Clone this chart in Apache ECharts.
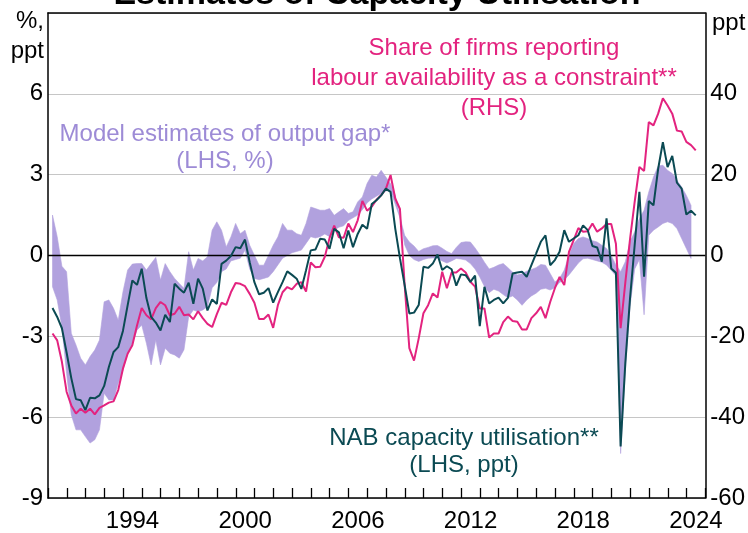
<!DOCTYPE html>
<html>
<head>
<meta charset="utf-8">
<script src="https://cdn.jsdelivr.net/npm/echarts@6/dist/echarts.min.js"></script>
<style>
  html, body { margin: 0; padding: 0; background: #fff; }
  #main { width: 748px; height: 533px; }
</style>
</head>
<body>
<div id="main"></div>
<script>
// quarterly data, 1990 Q1 onwards
var firstYear = 1990;
var yearLabels = [];
for (var yr = 1990; yr <= 2024; yr++) yearLabels.push(String(yr));

// NAB capacity utilisation, deviation from average (LHS, ppt)
var nab = [-1.95,-2.28,-2.7,-3.6,-4.55,-5.33,-5.37,-5.74,-5.28,-5.3,
  -5.19,-4.84,-4.14,-3.58,-3.4,-2.8,-1.85,-0.93,-1.09,-0.49,
  -1.58,-2.28,-2.49,-2.78,-2.2,-2.47,-1.05,-1.23,-1.38,-1.01,
  -1.79,-0.86,-1.23,-2.04,-1.63,-1.8,-0.31,-0.19,-0.02,0.31,
  0.27,0.59,-0.25,-0.99,-1.44,-1.38,-1.21,-1.75,-1.36,-0.99,
  -0.59,-0.72,-0.86,-1.24,-0.55,0.19,0.22,0.62,0.59,0.25,
  0.99,0.86,0.27,0.93,0.31,0.8,1.14,0.99,1.91,2.05,
  2.23,2.48,2.36,1.0,-0.1,-1.1,-2.15,-2.12,-1.84,-0.42,
  -0.46,-0.3,0.04,-0.54,-0.4,-0.51,-1.12,-0.7,-0.73,-0.98,
  -0.75,-2.62,-1.16,-1.78,-1.65,-1.56,-1.78,-1.57,-0.67,-0.63,
  -0.6,-0.79,-0.36,0.07,0.51,0.75,-0.36,-0.17,0.14,0.94,
  0.51,0.63,0.75,1.12,0.94,0.35,0.3,-0.23,1.38,-0.48,
  -0.64,-7.09,-4.0,-1.6,0.4,2.36,-0.79,2.02,1.86,3.22,
  4.21,3.28,3.7,2.7,2.48,1.52,1.66,1.49];

// share of firms reporting labour availability as a constraint (RHS, ppt)
var labour = [-19.3,-21.0,-26.3,-33.7,-37.1,-39.1,-37.9,-38.9,-37.9,-39.3,
  -37.7,-37.1,-36.4,-36.1,-33.3,-28.0,-24.3,-22.2,-17.3,-13.0,
  -14.8,-15.8,-13.0,-11.5,-12.3,-14.8,-14.4,-12.7,-14.8,-14.6,
  -15.8,-13.8,-15.5,-16.9,-17.7,-14.5,-11.7,-12.2,-9.1,-6.8,
  -7.0,-7.6,-9.5,-11.7,-15.7,-15.7,-14.6,-17.9,-12.3,-9.1,
  -7.8,-8.4,-7.0,-6.6,-8.9,-1.7,-2.9,-2.8,-0.3,4.3,
  7.4,4.5,4.4,7.9,5.8,8.7,13.5,11.1,12.1,13.8,
  14.9,16.5,19.9,14.1,11.5,-7.3,-22.9,-26.0,-20.5,-14.3,
  -12.3,-9.4,-10.4,-4.0,-8.1,-4.2,-4.2,-3.2,-4.2,-6.5,
  -7.7,-13.1,-13.1,-20.3,-19.3,-19.3,-16.5,-15.1,-16.2,-16.4,
  -18.3,-18.3,-15.5,-14.3,-12.7,-15.5,-11.5,-8.1,-5.3,-7.3,
  0.9,3.8,6.8,5.9,6.0,7.9,5.9,6.7,7.8,7.8,
  2.9,-18.0,-6.7,4.0,13.3,21.9,20.9,33.0,32.2,35.1,
  38.9,37.1,35.1,30.9,30.7,28.1,27.3,26.0];

// range of model estimates of the output gap (LHS, %)
var gapHigh = [1.5,0.7,-0.4,-0.6,-2.89,-3.32,-3.81,-4.06,-3.75,-3.51,
  -3.14,-1.72,-1.65,-1.96,-2.4,-1.35,-0.54,-0.32,-0.3,-0.3,
  -0.54,-0.3,-0.07,-0.91,-0.3,-0.6,-0.85,-1.04,-1.22,0.14,
  -0.54,-0.11,-0.2,-0.05,0.94,1.25,0.94,0.32,0.69,1.19,
  0.81,0.94,0.38,0.01,-0.36,-0.36,0.01,0.38,0.69,1.19,
  0.94,0.94,0.81,0.75,1.19,1.8,1.74,1.68,1.68,1.74,
  1.49,1.62,1.74,1.56,1.62,1.99,2.17,2.67,2.98,2.91,
  3.16,2.91,2.67,2.23,1.43,0.75,0.5,0.35,0.15,0.25,
  0.3,0.36,0.37,0.27,0.15,0.07,0.3,0.48,0.51,0.5,
  0.28,0.03,-0.25,-0.5,-0.44,-0.35,-0.3,-0.45,-0.62,-0.72,
  -0.68,-0.58,-0.52,-0.45,-0.33,-0.36,-0.67,-0.98,-0.85,-0.54,
  0.01,0.44,0.63,0.69,0.63,0.55,0.5,0.38,0.26,0.0,
  -0.35,-0.6,-0.23,0.51,0.88,1.37,1.68,2.36,2.91,3.32,
  3.35,3.16,3.04,2.79,2.54,2.23,1.86];
var gapLow = [-1.16,-1.65,-2.64,-4.37,-5.91,-6.47,-6.47,-6.72,-6.96,-6.84,
  -6.47,-5.11,-5.36,-5.36,-4.74,-4.25,-3.63,-3.26,-2.77,-2.58,
  -3.26,-4.06,-3.14,-4.06,-3.44,-3.63,-3.69,-3.81,-3.5,-2.27,
  -2.02,-2.09,-2.02,-1.9,-1.2,-1.0,-0.6,-0.5,-0.2,-0.15,
  -0.1,0.2,-0.5,-0.85,-0.9,-0.85,-0.8,-0.6,-0.35,-0.1,
  0.0,0.1,0.15,0.2,0.45,0.7,0.65,0.7,0.8,0.7,
  0.95,1.05,1.1,1.3,1.4,1.5,1.7,1.95,2.1,2.2,
  2.3,2.4,2.4,1.9,1.4,0.4,0.0,-0.15,-0.22,-0.15,
  -0.1,-0.09,-0.1,-0.2,-0.28,-0.2,-0.11,-0.13,-0.17,-0.3,
  -0.5,-0.8,-1.15,-1.38,-1.25,-1.32,-1.45,-1.57,-1.5,-1.65,
  -1.85,-1.65,-1.5,-1.4,-1.25,-1.22,-1.28,-1.2,-1.0,-0.9,
  -0.72,-0.5,-0.28,-0.12,-0.1,-0.15,-0.2,-0.25,-0.35,-0.55,
  -0.75,-7.35,-4.3,-1.9,-0.5,-0.15,-2.2,0.75,0.94,1.06,
  1.19,1.25,1.19,1.0,0.63,0.26,-0.11];

var FONT = '"Liberation Sans", Arial, sans-serif';
var PINK = '#e3237f';
var TEAL = '#0b4a53';
var BAND = '#b1a1de';

function qx(i) { return firstYear + 0.24 + i * 0.25; }
function pts(arr) { return arr.map(function (v, i) { return [qx(i), v]; }); }

var bandData = gapHigh.map(function (v, i) { return [qx(i), gapLow[i], v]; });

// whole band drawn as one polygon through the axis scales
function renderBand(params, api) {
  if (params.dataIndex !== 0) return;
  var upper = [], lower = [];
  for (var i = 0; i < bandData.length; i++) {
    upper.push(api.coord([bandData[i][0], bandData[i][2]]));
    lower.push(api.coord([bandData[i][0], bandData[i][1]]));
  }
  return {
    type: 'polygon',
    shape: { points: upper.concat(lower.reverse()) },
    style: { fill: BAND, stroke: BAND, lineWidth: 0.6 },
    silent: true
  };
}

var myChart = echarts.init(document.getElementById('main'));
var option = {
  animation: false,
  grid: { left: 48, right: 41, top: 13, bottom: 33 },
  xAxis: [
    { type: 'value', min: 1990, max: 2025, show: false },
    {
      type: 'category', data: yearLabels, boundaryGap: true, position: 'bottom',
      axisLine: { show: true, onZero: false, lineStyle: { color: '#000', width: 1.5 } },
      axisTick: { show: true, inside: true, length: 10, interval: 0, alignWithLabel: false,
        lineStyle: { color: '#000', width: 1.3 } },
      axisLabel: {
        interval: function (idx, val) { return Number(val) % 6 === 2; },
        fontSize: 24, color: '#000', fontFamily: FONT, margin: 11
      },
      splitLine: { show: false }
    },
    {
      type: 'value', min: 0, max: 1, position: 'top',
      axisLine: { show: true, onZero: false, lineStyle: { color: '#000', width: 1.5 } },
      axisTick: { show: false }, axisLabel: { show: false }, splitLine: { show: false }
    }
  ],
  yAxis: [
    {
      type: 'value', min: -9, max: 9, interval: 3, position: 'left',
      axisLine: { show: true, onZero: false, lineStyle: { color: '#000', width: 1.5 } },
      axisTick: { show: false },
      axisLabel: {
        fontSize: 24, color: '#000', fontFamily: FONT, margin: 5,
        formatter: function (v) { return v === 9 ? '' : String(v); }
      },
      splitLine: { show: true, lineStyle: { color: '#c6c6c6', width: 1.2 } }
    },
    {
      type: 'value', min: -60, max: 60, interval: 20, position: 'right',
      axisLine: { show: true, onZero: false, lineStyle: { color: '#000', width: 1.5 } },
      axisTick: { show: false },
      axisLabel: {
        fontSize: 24, color: '#000', fontFamily: FONT, margin: 5,
        formatter: function (v) { return v === 60 ? '' : String(v); }
      },
      splitLine: { show: false }
    }
  ],
  series: [
    {
      name: 'gapRange', type: 'custom', xAxisIndex: 0, yAxisIndex: 0,
      data: bandData, encode: { x: 0, y: [1, 2] },
      renderItem: renderBand, silent: true, z: 2,
      markLine: {
        silent: true, symbol: 'none', z: 5,
        label: { show: false },
        lineStyle: { color: '#000', width: 1.3, type: 'solid' },
        data: [{ yAxis: 0 }]
      }
    },
    {
      name: 'labour', type: 'line', xAxisIndex: 0, yAxisIndex: 1,
      data: pts(labour), symbol: 'none', z: 7,
      lineStyle: { width: 2, color: PINK }
    },
    {
      name: 'nab', type: 'line', xAxisIndex: 0, yAxisIndex: 0,
      data: pts(nab), symbol: 'none', z: 8,
      lineStyle: { width: 2, color: TEAL }
    }
  ],
  graphic: [
    { type: 'text', x: 377, y: -5.5, silent: true,
      style: { text: 'Estimates of Capacity Utilisation', fill: '#000', font: 'bold 34px ' + FONT, align: 'center', verticalAlign: 'middle' } },
    { type: 'text', x: 44, y: 36, silent: true,
      style: { text: '%,\nppt', fill: '#000', font: '24px ' + FONT, align: 'right', verticalAlign: 'middle', lineHeight: 30 } },
    { type: 'text', x: 712, y: 23, silent: true,
      style: { text: 'ppt', fill: '#000', font: '24px ' + FONT, align: 'left', verticalAlign: 'middle' } },
    { type: 'text', x: 494, y: 78, silent: true,
      style: { text: 'Share of firms reporting\nlabour availability as a constraint**\n(RHS)', fill: PINK, font: '24px ' + FONT, align: 'center', verticalAlign: 'middle', lineHeight: 30 } },
    { type: 'text', x: 225, y: 147.5, silent: true,
      style: { text: 'Model estimates of output gap*\n(LHS, %)', fill: '#9d8bd6', font: '24px ' + FONT, align: 'center', verticalAlign: 'middle', lineHeight: 27 } },
    { type: 'text', x: 464, y: 451.5, silent: true,
      style: { text: 'NAB capacity utilisation**\n(LHS, ppt)', fill: TEAL, font: '24px ' + FONT, align: 'center', verticalAlign: 'middle', lineHeight: 27 } }
  ]
};
myChart.setOption(option);
</script>
</body>
</html>
